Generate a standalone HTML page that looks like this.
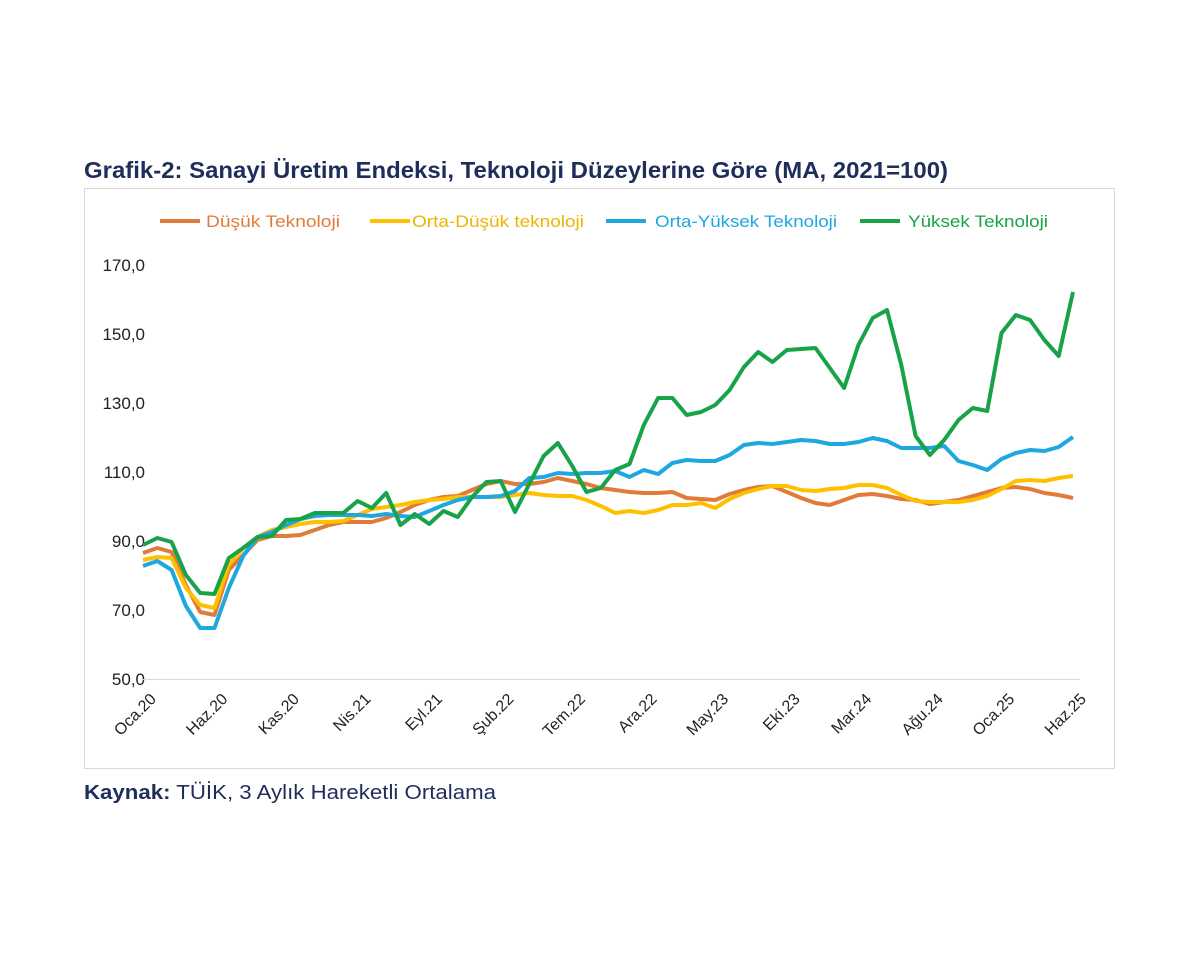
<!DOCTYPE html>
<html><head><meta charset="utf-8"><style>
body{margin:0;background:#fff;width:1200px;height:960px;overflow:hidden;font-family:"Liberation Sans",sans-serif}
</style></head><body>
<svg id="s" width="1200" height="960" xmlns="http://www.w3.org/2000/svg" font-family="Liberation Sans, sans-serif">
<text x="84" y="178" font-size="23" font-weight="bold" fill="#1F2D5A" textLength="864" lengthAdjust="spacingAndGlyphs">Grafik-2: Sanayi Üretim Endeksi, Teknoloji Düzeylerine Göre (MA, 2021=100)</text>
<rect x="84.5" y="188.5" width="1030" height="580" fill="none" stroke="#d9d9d9"/>
<g font-size="17" fill="#222" text-anchor="end">
<text x="145" y="271">170,0</text><text x="145" y="340">150,0</text><text x="145" y="409">130,0</text>
<text x="145" y="478">110,0</text><text x="145" y="547">90,0</text><text x="145" y="616">70,0</text><text x="145" y="685">50,0</text>
</g>
<line x1="143" y1="679.5" x2="1080" y2="679.5" stroke="#d9d9d9"/>
<g font-size="17">
<line x1="160" y1="221" x2="200" y2="221" stroke="#E07B39" stroke-width="4"/><text x="206" y="227" fill="#E07B39" textLength="134" lengthAdjust="spacingAndGlyphs">Düşük Teknoloji</text>
<line x1="370" y1="221" x2="410" y2="221" stroke="#FFC000" stroke-width="4"/><text x="412" y="227" fill="#F0B400" textLength="172" lengthAdjust="spacingAndGlyphs">Orta-Düşük teknoloji</text>
<line x1="606" y1="221" x2="646" y2="221" stroke="#1FA7E0" stroke-width="4"/><text x="655" y="227" fill="#1FA7E0" textLength="182" lengthAdjust="spacingAndGlyphs">Orta-Yüksek Teknoloji</text>
<line x1="860" y1="221" x2="900" y2="221" stroke="#18A349" stroke-width="4"/><text x="908" y="227" fill="#18A349" textLength="140" lengthAdjust="spacingAndGlyphs">Yüksek Teknoloji</text>
</g>
<g id="lines"></g><g id="xl" font-size="16" fill="#222" text-anchor="end"></g>
<text x="84" y="799" font-size="20" fill="#1F2D5A" textLength="412" lengthAdjust="spacingAndGlyphs"><tspan font-weight="bold">Kaynak:</tspan> TÜİK, 3 Aylık Hareketli Ortalama</text>
</svg>
<script>
var g=[545,538,542,575,593,594,558,548,537,536,520,519,513,513,513,501,508,493,525,514,524,511,517,497,482,481,512,484,456,443,466,492,488,470,464,425,398,398,415,412,405,390,367,352,362,350,349,348,368,388,345,318,310,365,436,455,440,420,408,411,333,315,320,340,356,292];
var b=[566,561,570,606,628,628,588,556,537,532,525,519,516,515,515,515,516,514,516,517,511,505,500,497,497,496,491,478,477,473,474,473,473,471,477,470,474,463,460,461,461,455,445,443,444,442,440,441,444,444,442,438,441,448,448,448,446,461,465,470,459,453,450,451,447,437];
var o=[553,548,552,585,612,615,570,555,540,536,536,535,530,525,522,522,522,518,512,505,500,497,496,490,484,481,484,484,482,478,481,484,488,490,492,493,493,492,498,499,500,494,490,487,486,492,498,503,505,500,495,494,496,499,500,504,502,500,496,492,488,487,489,493,495,498];
var y=[560,557,558,588,605,608,565,548,537,530,527,524,522,522,521,515,509,507,505,502,500,499,497,497,497,497,495,493,495,496,496,500,506,513,511,513,510,505,505,503,508,499,493,489,486,486,490,491,489,488,485,485,488,495,501,502,502,502,500,496,489,481,480,481,478,476];
function X(i){return 143+i*930/65}
var L=document.getElementById('lines'),ns="http://www.w3.org/2000/svg";
[[o,'#E07B39'],[y,'#FFC000'],[b,'#1FA7E0'],[g,'#18A349']].forEach(function(s){var p=document.createElementNS(ns,'polyline');p.setAttribute('points',s[0].map(function(v,i){return X(i).toFixed(1)+','+v}).join(' '));p.setAttribute('fill','none');p.setAttribute('stroke',s[1]);p.setAttribute('stroke-width','4');p.setAttribute('stroke-linejoin','round');L.appendChild(p)});
var lb=['Oca.20','Haz.20','Kas.20','Nis.21','Eyl.21','Şub.22','Tem.22','Ara.22','May.23','Eki.23','Mar.24','Ağu.24','Oca.25','Haz.25'],XL=document.getElementById('xl');
lb.forEach(function(t,k){var x=X(k*5)+14,yy=700;var e=document.createElementNS(ns,'text');e.setAttribute('x',x);e.setAttribute('y',yy);e.setAttribute('transform','rotate(-45 '+x+' '+yy+')');e.textContent=t;XL.appendChild(e)});
</script>
</body></html>
